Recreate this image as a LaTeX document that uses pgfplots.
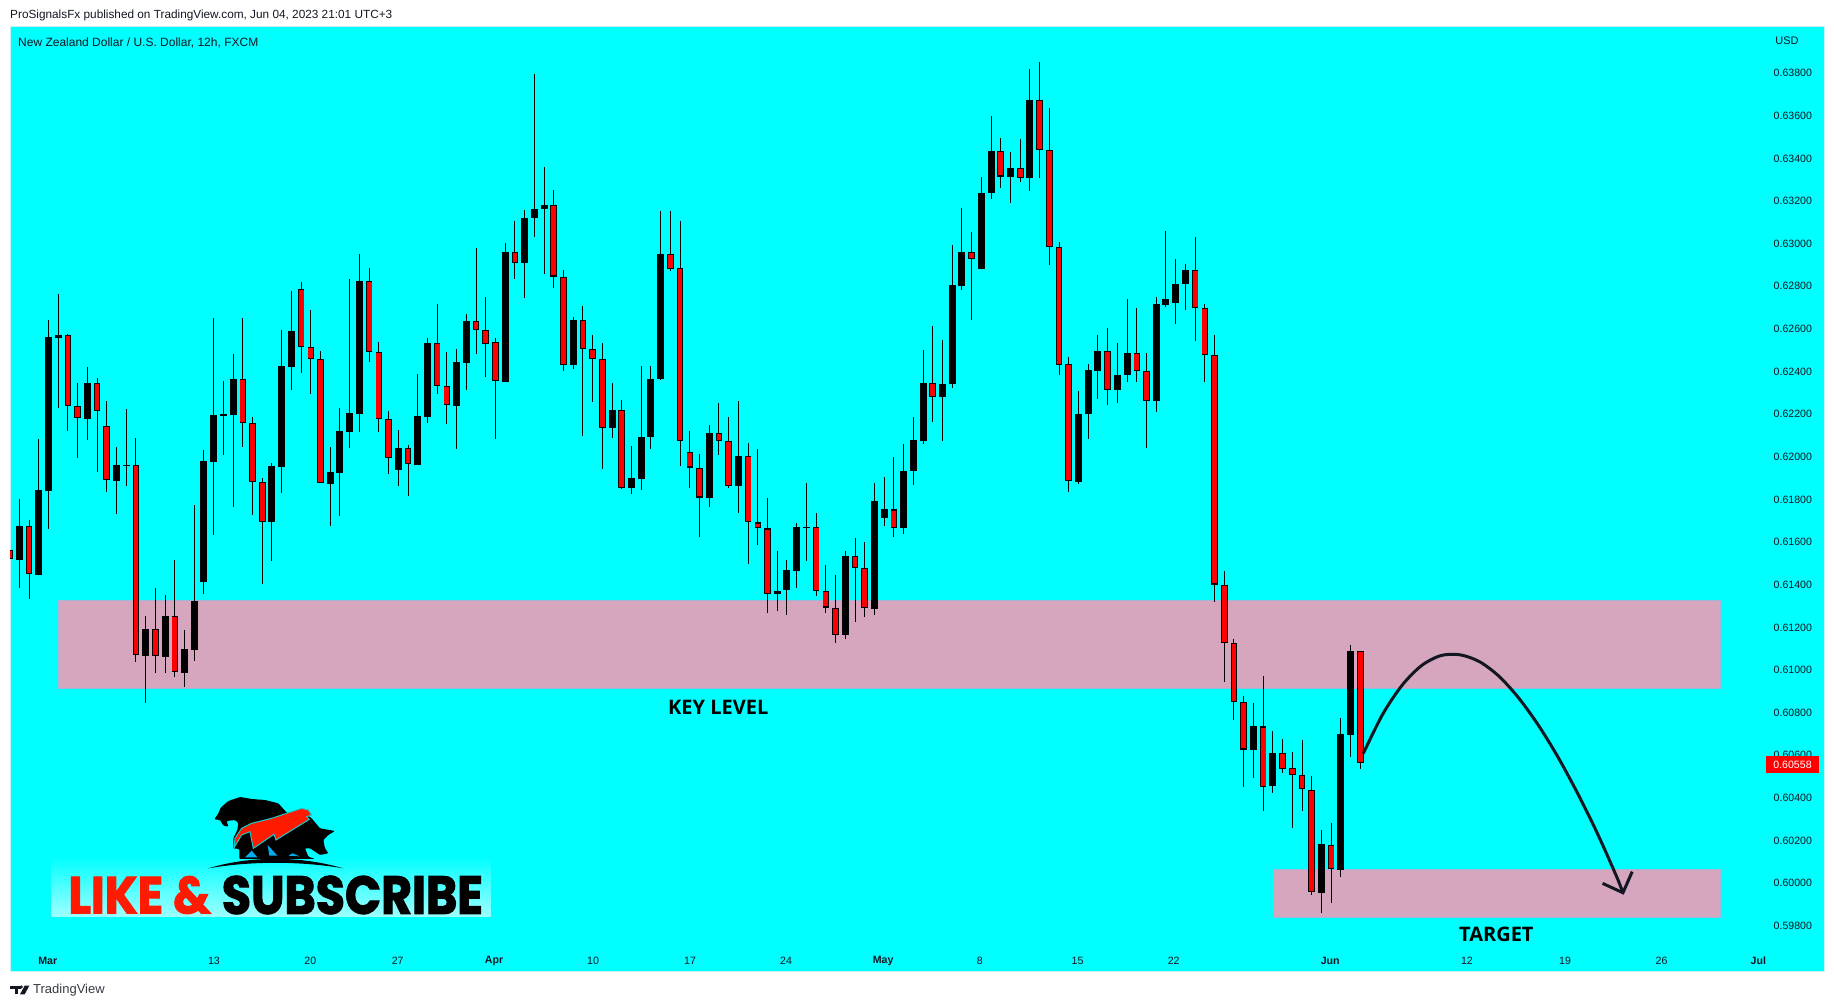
\documentclass[border=0pt]{standalone}
\usepackage{fontspec}
\setmainfont{Liberation Sans}
\newfontfamily\pop[BoldFeatures={FakeBold=2.2}]{Poppins}
\newfontfamily\opensans{Open Sans}
\usepackage{pgfplots}
\usepackage{pgfplotstable}
\pgfplotsset{compat=1.18}
\definecolor{tvink}{HTML}{131722}
\definecolor{zone}{HTML}{D6A6BF}
\definecolor{zoneedge}{HTML}{9FB6D8}
\definecolor{edge}{HTML}{C4F4F4}
\definecolor{logored}{HTML}{FF1A00}
% black (rising) candles: i open high low close
\pgfplotstableread{
i o h l c
1 .61511 .61795 .61379 .61669
3 .61440 .62075 .61440 .61838
4 .61834 .62635 .61654 .62554
5 .62552 .62757 .62224 .62563
8 .62172 .62415 .62072 .62338
11 .61881 .62039 .61725 .61955
12 .61950 .62218 .61856 .61953
14 .61060 .61246 .60840 .61184
16 .61056 .61345 .60980 .61245
18 .60980 .61181 .60915 .61090
19 .61088 .61767 .61037 .61317
20 .61407 .62025 .61349 .61974
21 .61970 .62645 .61626 .62188
22 .62186 .62349 .62003 .62192
23 .62191 .62476 .61758 .62357
27 .61689 .61963 .61504 .61948
28 .61947 .62588 .61823 .62419
29 .62416 .62771 .62307 .62582
33 .61867 .62039 .61669 .61920
34 .61919 .62222 .61715 .62113
35 .62111 .62827 .62034 .62197
36 .62196 .62945 .62110 .62816
40 .61933 .62118 .61856 .62033
42 .61956 .62381 .61956 .62183
43 .62182 .62551 .62152 .62526
46 .62233 .62499 .62030 .62436
47 .62435 .62661 .62307 .62629
51 .62346 .62997 .62346 .62952
53 .62904 .63151 .62739 .63112
54 .63112 .63789 .63025 .63158
55 .63158 .63353 .62850 .63175
58 .62422 .62650 .62403 .62633
62 .62130 .62340 .62082 .62212
64 .61848 .62045 .61821 .61893
65 .61891 .62420 .61839 .62084
66 .62084 .62420 .62032 .62360
67 .62360 .63147 .62353 .62943
72 .61802 .62143 .61756 .62103
75 .61858 .62255 .61728 .61995
79 .61348 .61552 .61272 .61363
80 .61370 .61509 .61253 .61461
81 .61459 .61682 .61379 .61663
82 .61661 .61871 .61505 .61665
86 .61155 .61552 .61140 .61526
89 .61281 .61871 .61249 .61784
90 .61708 .61899 .61670 .61746
92 .61657 .62054 .61633 .61925
93 .61925 .62181 .61863 .62071
94 .62069 .62494 .62051 .62340
96 .62275 .62542 .62069 .62333
97 .62333 .62987 .62316 .62798
98 .62796 .63160 .62774 .62952
100 .62876 .63307 .62876 .63230
101 .63229 .63592 .63201 .63427
103 .63308 .63423 .63186 .63347
105 .63303 .63813 .63242 .63668
110 .61876 .62303 .61867 .62192
111 .62192 .62429 .62075 .62399
112 .62398 .62565 .62266 .62488
114 .62305 .62527 .62247 .62375
115 .62375 .62733 .62346 .62479
118 .62253 .62743 .62205 .62709
119 .62707 .63052 .62694 .62733
120 .62717 .62921 .62618 .62802
121 .62802 .62898 .62683 .62869
128 .60620 .60838 .60485 .60728
130 .60450 .60707 .60414 .60605
135 .59949 .60241 .59852 .60175
137 .60057 .60767 .60024 .60692
138 .60690 .61109 .60587 .61081
}\upbars
% red (falling) candles: i open high low close
\pgfplotstableread{
i o h l c
0 .61556 .61728 .61309 .61512
2 .61667 .61695 .61326 .61442
6 .62563 .62569 .62114 .62230
7 .62230 .62338 .61988 .62174
9 .62338 .62363 .61922 .62207
10 .62136 .62255 .61828 .61883
13 .61953 .62081 .61030 .61062
15 .61184 .61378 .60980 .61057
17 .61245 .61509 .60962 .60982
24 .62357 .62645 .62041 .62150
25 .62150 .62179 .61720 .61873
26 .61873 .61892 .61398 .61689
30 .62779 .62813 .62386 .62507
31 .62507 .62682 .62288 .62451
32 .62451 .62488 .61869 .61869
37 .62816 .62879 .62438 .62483
38 .62483 .62530 .62110 .62169
39 .62169 .62207 .61913 .61986
41 .62033 .62047 .61809 .61958
44 .62526 .62710 .62288 .62324
45 .62324 .62485 .62147 .62235
48 .62629 .62973 .62475 .62590
49 .62590 .62741 .62368 .62524
50 .62531 .62552 .62077 .62348
52 .62952 .63101 .62828 .62904
56 .63173 .63245 .62785 .62839
57 .62839 .62869 .62394 .62422
59 .62633 .62702 .62092 .62498
60 .62498 .62565 .62251 .62450
61 .62451 .62527 .61938 .62130
63 .62212 .62260 .61843 .61848
68 .62943 .63147 .62867 .62876
69 .62878 .63101 .61951 .62069
70 .62014 .62114 .61848 .61943
71 .61943 .62006 .61615 .61802
73 .62103 .62244 .62004 .62066
74 .62066 .62181 .61847 .61858
76 .61995 .62058 .61492 .61685
77 .61685 .62030 .61578 .61657
78 .61657 .61800 .61262 .61348
83 .61663 .61730 .61338 .61363
84 .61363 .61487 .61259 .61286
85 .61286 .61439 .61118 .61157
87 .61526 .61613 .61220 .61470
88 .61470 .61594 .61240 .61283
91 .61746 .61993 .61615 .61657
95 .62338 .62607 .62155 .62275
99 .62952 .63049 .62633 .62923
102 .63427 .63488 .63256 .63308
104 .63347 .63485 .63281 .63303
106 .63666 .63846 .63299 .63431
107 .63431 .63629 .62891 .62976
108 .62976 .63000 .62375 .62425
109 .62427 .62463 .61826 .61878
113 .62488 .62598 .62234 .62305
116 .62479 .62693 .62346 .62394
117 .62394 .62481 .62036 .62253
122 .62869 .63025 .62535 .62689
123 .62691 .62711 .62342 .62470
124 .62469 .62565 .61314 .61394
125 .61394 .61456 .60935 .61118
126 .61118 .61140 .60760 .60844
127 .60844 .60870 .60442 .60620
129 .60728 .60965 .60330 .60442
131 .60605 .60670 .60508 .60530
132 .60532 .60608 .60250 .60502
133 .60502 .60665 .60333 .60433
134 .60432 .60496 .59939 .59950
136 .60174 .60274 .59902 .60058
139 .61081 .61081 .60530 .60558
}\downbars
\begin{document}
\begin{tikzpicture}[x=1pt,y=1pt]
\fill[white] (0,0) rectangle (1834,1008);
\begin{axis}[
  at={(10pt,36pt)}, anchor=south west,
  scale only axis, width=1814pt, height=945pt,
  xmin=0.04, xmax=186.72, ymin=0.595762, ymax=0.640097,
  axis background/.style={fill={rgb,1:red,0;green,1;blue,1}},
  axis line style={draw=edge, line width=1pt},
  major tick length=0pt,
  tick label style={font=\fontsize{10.6}{13}\selectfont, text=tvink},
  xtick={3.92,21.03,30.94,39.94,49.85,60.04,70.02,79.9,89.9,99.85,109.9,119.8,135.9,149.98,160.07,170,179.96},
  xticklabels={\textbf{Mar},13,20,27,\textbf{Apr},10,17,24,\textbf{May},8,15,22,\textbf{Jun},12,19,26,\textbf{Jul}},
  x tick label style={anchor=center, yshift=11pt},
  ytick={0.598,0.600,0.602,0.604,0.606,0.608,0.610,0.612,0.614,0.616,0.618,0.620,0.622,0.624,0.626,0.628,0.630,0.632,0.634,0.636,0.638},
  yticklabel pos=right,
  y tick label style={anchor=east, xshift=-8.5pt, yshift=-1.5pt,
    /pgf/number format/.cd, fixed, precision=5, zerofill, assume math mode=true},
  scaled y ticks=false,
  clip=true,
]
% zones
\addplot[fill=zone, draw=zoneedge, line width=0.8pt, forget plot] coordinates
  {(5.03,.613182)(176.05,.613182)(176.05,.609086)(5.03,.609086)} -- cycle;
\addplot[fill=zone, draw=zoneedge, line width=0.8pt, forget plot] coordinates
  {(130.05,.60058)(176.05,.60058)(176.05,.598342)(130.05,.598342)} -- cycle;
% wicks
\addplot[draw=none, mark=none, forget plot, error bars/.cd, y dir=minus, y explicit, error mark=none,
  error bar style={draw=black, line width=1pt}]
  table[x=i, y=h, y error expr=\thisrow{h}-\thisrow{l}] {\upbars};
\addplot[draw=none, mark=none, forget plot, error bars/.cd, y dir=minus, y explicit, error mark=none,
  error bar style={draw=black, line width=1pt}]
  table[x=i, y=h, y error expr=\thisrow{h}-\thisrow{l}] {\downbars};
% bodies
\addplot[draw=none, mark=none, forget plot, error bars/.cd, y dir=minus, y explicit, error mark=none,
  error bar style={draw=black, line width=7pt}]
  table[x=i, y=c, y error expr=\thisrow{c}-\thisrow{o}] {\upbars};
\addplot[draw=none, mark=none, forget plot, error bars/.cd, y dir=minus, y explicit, error mark=none,
  error bar style={draw=black, line width=6.6pt}]
  table[x=i, y=o, y error expr=\thisrow{o}-\thisrow{c}] {\downbars};
\addplot[draw=none, mark=none, forget plot, error bars/.cd, y dir=minus, y explicit, error mark=none,
  error bar style={draw=red, line width=4.8pt}]
  table[x=i, y expr=\thisrow{o}-0.00005, y error expr=\thisrow{o}-\thisrow{c}-0.0001] {\downbars};
% projected path
\addplot[smooth, color=tvink, line width=3pt, forget plot] coordinates {
 (139.31,.60602)(141.31,.60786)(143.31,.60922)(145.31,.61014)(147.31,.61061)(149.31,.61064)
 (151.31,.61031)(153.31,.60962)(155.31,.60861)(157.31,.60735)(159.31,.60587)(161.31,.60419)
 (163.31,.60235)(165.31,.60031)(166.03,.59948)};
\addplot[color=tvink, line width=3pt, forget plot] coordinates {
 (163.93,.59992)(166.03,.59948)(166.98,.60047)};
\node[font=\opensans\bfseries\fontsize{20}{22}\selectfont, text=black] at (axis cs:72.93,.60816) {KEY LEVEL};
\node[font=\opensans\bfseries\fontsize{20}{22}\selectfont, text=black] at (axis cs:153,.59755) {TARGET};
\node[fill=red, text=white, font=\fontsize{10.6}{13}\selectfont, inner sep=0pt, minimum width=53pt, minimum height=17pt] at (axis cs:183.48,.60550) {0.60558};
\end{axis}
% page texts
\node[anchor=west, font=\fontsize{11.8}{13}\selectfont, text=tvink, inner sep=0] at (10,992.5) {ProSignalsFx published on TradingView.com, Jun 04, 2023 21:01 UTC+3};
\node[anchor=west, font=\fontsize{12}{13}\selectfont, text=tvink, inner sep=0] at (18,965.5) {New Zealand Dollar / U.S. Dollar, 12h, FXCM};
\node[font=\fontsize{11}{13}\selectfont, text=tvink, inner sep=0] at (1787,967) {USD};
\node[anchor=west, font=\fontsize{13}{15}\selectfont, text=tvink!85, inner sep=0] at (33,18) {TradingView};
% logo bottom part and footer mark, typed in crop coordinates
\begin{scope}[x=0.33333pt,y=-0.33333pt,shift={(0pt,248pt)}]
\shade[top color=cyan, bottom color={rgb,1:red,0.62;green,1;blue,1}] (155,290) rectangle (1473,470);
\node[anchor=west, inner sep=0, text=logored] at (205,405) {\resizebox{142pt}{37pt}{\pop\bfseries LIKE \&}};
\node[anchor=west, inner sep=0, text=black] at (665,405) {\resizebox{261pt}{38pt}{\pop\bfseries SUBSCRIBE}};
\fill[tvink] (30,677) rectangle (62,686);
\fill[tvink] (44,677) rectangle (54,703);
\fill[tvink] (64,681) circle (5);
\fill[tvink] (74,677)--(88,677)--(74,703)--(60,703)--cycle;
\end{scope}
% bull and bear
\begin{scope}[x=0.33333pt,y=-0.33333pt,shift={(200pt,223pt)}]
\fill[black,rounded corners=1pt] (43,103)--(55,85)--(62,68)--(85,48)--(120,36)--(155,42)--(195,45)--(235,55)--(262,85)--(300,75)--(335,100)--(360,130)--(405,138)--(385,150)--(370,165)--(375,190)--(385,205)--(360,210)--(330,190)--(315,190)--(325,215)--(345,222)--(118,222)--(118,192)--(100,190)--(100,160)--(112,135)--(115,115)--(105,105)--(80,108)--(85,125)--(70,122)--(60,105)--cycle;
\fill[cyan] (135,217)--(155,197)--(172,217)--cycle;
\fill[cyan] (203,180)--(208,212)--(232,212)--cycle;
\fill[cyan] (265,212)--(278,205)--(298,214)--cycle;
\fill[black] (25,250) .. controls (150,212) and (300,212) .. (430,250) .. controls (300,228) and (150,228) .. (25,250);
\fill[logored, draw={rgb,1:red,0.1;green,0.8;blue,0.8}, line width=1pt] (102,188)--(105,160)--(125,130)--(155,115)--(215,100)--(260,85)--(305,70)--(325,75)--(335,90)--(320,95)--(328,103)--(228,165)--(222,148)--(160,190)--(150,140)--(125,150)--cycle;
\end{scope}
\end{tikzpicture}
\end{document}
